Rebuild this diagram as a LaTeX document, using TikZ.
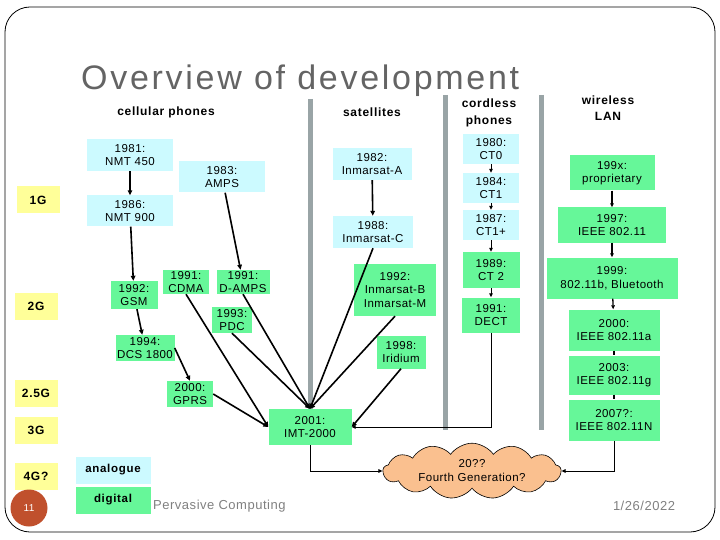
\documentclass[tikz,border=0pt]{standalone}
\usepackage{fontspec}
\setmainfont{Liberation Sans}[LetterSpace=4]
\newfontfamily\titlefont{Liberation Sans}[LetterSpace=8]
\newfontfamily\hdrfont{Liberation Sans}[LetterSpace=6]
\usetikzlibrary{arrows.meta, shapes.symbols}
\definecolor{anablue}{RGB}{204,250,255}
\definecolor{digigreen}{RGB}{102,247,153}
\definecolor{genyellow}{RGB}{255,255,153}
\definecolor{bargrey}{RGB}{153,164,166}
\definecolor{cloudorange}{RGB}{250,192,143}
\definecolor{pagered}{RGB}{192,80,45}
\definecolor{titlegrey}{RGB}{100,100,100}
\tikzset{every node/.append style={align=center, inner sep=0pt}}

\begin{document}
\begin{tikzpicture}[
    x=1pt, y=-1pt,
    box/.style={rectangle, font=\fontsize{11.5}{13.5}\selectfont},
    ana/.style={box, fill=anablue},
    digi/.style={box, fill=digigreen},
    gen/.style={rectangle, fill=genyellow, minimum width=43, minimum height=27,
        font=\hdrfont\bfseries\fontsize{12}{14}\selectfont},
    hdr/.style={font=\hdrfont\bfseries\fontsize{12}{16.5}\selectfont},
    arr/.style={-{Triangle[length=5pt, width=4.5pt]}, line width=1.6pt},
    tarr/.style={-{Triangle[length=4pt, width=3.5pt]}, line width=1pt},
    warr/.style={-{Triangle[length=4pt, width=3.5pt]}, line width=1.3pt},
    bar/.style={line width=5pt, bargrey}
]
\useasboundingbox (0,0) rectangle (720,540);
\draw[line width=0.8pt, rounded corners=25pt] (5,7) rectangle (715,532);
\node[font=\titlefont\fontsize{34}{36}\selectfont, text=titlegrey, anchor=base west]
    (title) at (81,90) {Overview of development};
% column separators
\draw[bar] (310,99) -- (310,409);
\draw[bar] (445,95) -- (445,430);
\draw[bar] (541,95) -- (541,430);
% headers
\node[hdr] (hcell) at (166,112) {cellular phones};
\node[hdr] (hsat) at (372,112) {satellites};
\node[hdr] (hcord) at (489,113) {cordless\\phones};
\node[hdr] (hwlan) at (608,108) {wireless\\LAN};
% generations
\node[gen] (g1) at (38,200) {1G};
\node[gen] (g2) at (36,306) {2G};
\node[gen] (g25) at (36,393) {2.5G};
\node[gen] (g3) at (36,430) {3G};
\node[gen] (g4) at (36,476) {4G?};
% cellular phones
\node[ana, minimum width=86, minimum height=32] (nmt450) at (130,155) {1981:\\NMT 450};
\node[ana, minimum width=86, minimum height=31] (nmt900) at (130,211) {1986:\\NMT 900};
\node[ana, minimum width=86, minimum height=31] (amps) at (222,177) {1983:\\AMPS};
\node[digi, minimum width=47, minimum height=28] (gsm) at (134,295) {1992:\\GSM};
\node[digi, minimum width=46, minimum height=24] (cdma) at (186,282) {1991:\\CDMA};
\node[digi, minimum width=53, minimum height=24] (damps) at (243,282) {1991:\\D-AMPS};
\node[digi, minimum width=40, minimum height=26] (pdc) at (232,320) {1993:\\PDC};
\node[digi, minimum width=59, minimum height=26] (dcs) at (145,348) {1994:\\DCS 1800};
\node[digi, minimum width=46, minimum height=26] (gprs) at (190,394) {2000:\\GPRS};
\node[digi, minimum width=83, minimum height=36] (imt) at (310,427) {2001:\\IMT-2000};
% satellites
\node[ana, minimum width=79, minimum height=32] (inmA) at (372,164) {1982:\\Inmarsat-A};
\node[ana, minimum width=80, minimum height=32] (inmC) at (373,232) {1988:\\Inmarsat-C};
\node[digi, minimum width=82, minimum height=52] (inmBM) at (395,290) {1992:\\Inmarsat-B\\Inmarsat-M};
\node[digi, minimum width=49, minimum height=33] (iridium) at (401,352) {1998:\\Iridium};
% cordless phones
\node[ana, minimum width=56, minimum height=30] (ct0) at (491,149) {1980:\\CT0};
\node[ana, minimum width=56, minimum height=30] (ct1) at (491,188) {1984:\\CT1};
\node[ana, minimum width=56, minimum height=30] (ct1p) at (491,225) {1987:\\CT1+};
\node[digi, minimum width=57, minimum height=36] (ct2) at (491,270) {1989:\\CT 2};
\node[digi, minimum width=58, minimum height=35] (dect) at (491,315) {1991:\\DECT};
% wireless LAN
\node[digi, minimum width=85, minimum height=35] (wprop) at (612,173) {199x:\\proprietary};
\node[digi, minimum width=108, minimum height=35] (w97) at (612,225) {1997:\\IEEE 802.11};
\node[digi, minimum width=131, minimum height=41] (w99) at (612,278) {1999:\\802.11b, Bluetooth};
\node[digi, minimum width=91, minimum height=41] (w00) at (614,330) {2000:\\IEEE 802.11a};
\node[digi, minimum width=91, minimum height=39] (w03) at (614,375) {2003:\\IEEE 802.11g};
\node[digi, minimum width=91, minimum height=41] (w07) at (614,420) {2007?:\\IEEE 802.11N};
% fourth generation
\node[cloud, cloud puffs=13, cloud puff arc=110, aspect=4, draw, line width=0.6pt, fill=cloudorange,
    minimum width=178, minimum height=48, font=\fontsize{11.5}{14}\selectfont]
    (fourth) at (472,471) {20??\\Fourth Generation?};
% legend and footer
\node[ana, minimum width=75, minimum height=27, font=\hdrfont\bfseries\fontsize{11.5}{14}\selectfont]
    (lana) at (113,470) {analogue};
\node[digi, minimum width=75, minimum height=27, font=\hdrfont\bfseries\fontsize{11.5}{14}\selectfont]
    (ldigi) at (113,500) {digital};
\node[circle, fill=pagered, minimum size=37, text=white, font=\fontsize{10}{12}\selectfont]
    (pagenum) at (29,508) {11};
\node[anchor=base west, text=gray, font=\fontsize{13}{16}\selectfont] (foot) at (153,509) {Pervasive Computing};
\node[anchor=base, text=gray, font=\fontsize{13}{16}\selectfont] (date) at (644,510) {1/26/2022};
% connectors
\draw[arr] (nmt450) -- (nmt900);
\draw[arr] (nmt900) -- (gsm);
\draw[arr] (gsm) -- (dcs);
\draw[arr] (dcs.east) -- (gprs.north);
\draw[arr] (amps) -- (damps);
\draw[arr] (inmA) -- (inmC);
\draw[arr] (cdma.south) -- (imt.west);
\draw[arr] (gprs.east) -- (imt.west);
\draw[arr] (damps.south) -- (imt.north);
\draw[arr] (pdc.south) -- (imt.north);
\draw[arr] (inmC.south) -- (imt.north);
\draw[arr] (inmBM.south) -- (imt.north);
\draw[arr] (iridium.south) -- (imt.east);
\draw[tarr] (ct0) -- (ct1);
\draw[tarr] (ct1) -- (ct1p);
\draw[tarr] (ct1p) -- (ct2);
\draw[tarr] (ct2) -- (dect);
\draw[tarr] (dect.south) |- (imt.east);
\draw[warr] (wprop) -- (w97);
\draw[warr] (w97) -- (w99);
\draw[warr] (w99) -- (w00);
\draw[line width=1.3pt] (w00) -- (w03);
\draw[line width=1.3pt] (w03) -- (w07);
\draw[tarr] (imt.south) |- (fourth.west);
\draw[tarr] (w07.south) |- (fourth.east);
\end{tikzpicture}
\end{document}
